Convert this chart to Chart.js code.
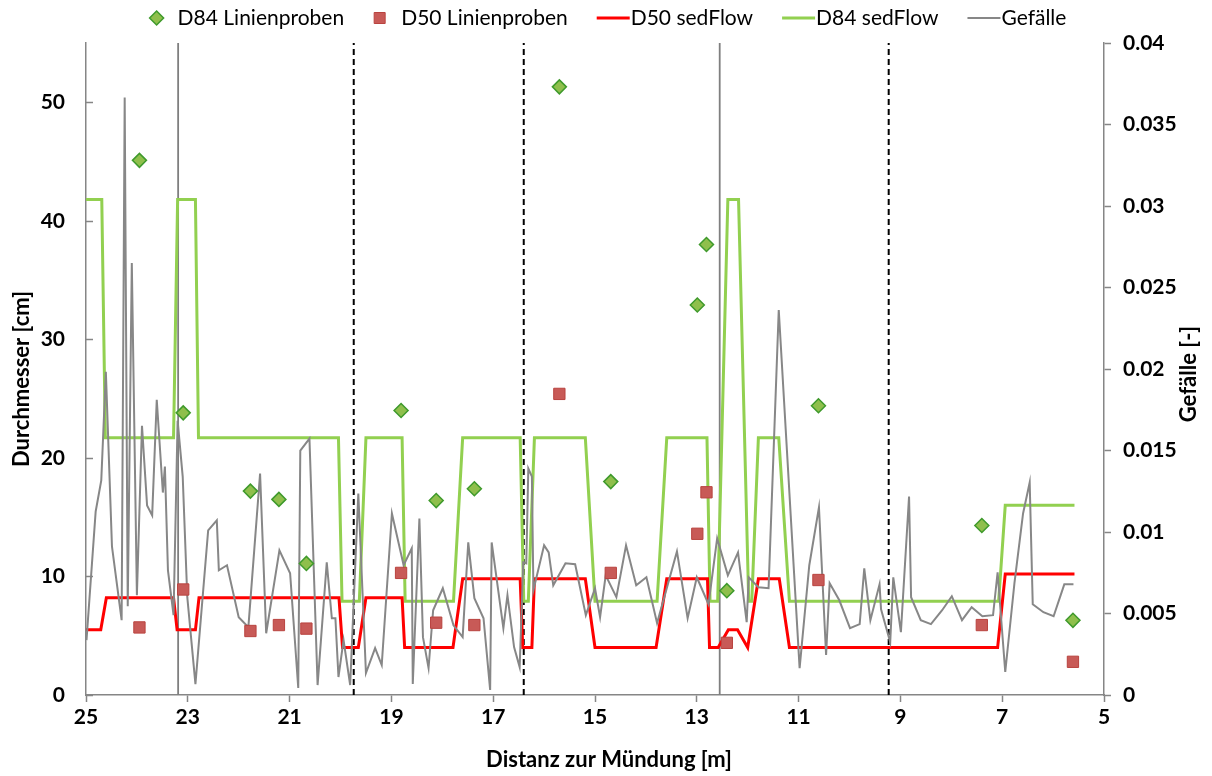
<!DOCTYPE html>
<html><head><meta charset="utf-8">
<script src="https://cdn.jsdelivr.net/npm/chart.js@4.4.1/dist/chart.umd.min.js"></script>
<style>html,body{margin:0;padding:0;background:#fff;overflow:hidden}</style>
</head><body>
<canvas id="c" width="1212" height="776"></canvas>
<script>
// ---- data ----
const sampleDist = [23.95, 23.09, 21.77, 21.21, 20.67, 18.81, 18.12, 17.37, 15.70, 14.69, 12.99, 12.81, 12.41, 10.61, 7.40, 5.61];
const d84Samples = [45.1, 23.8, 17.2, 16.5, 11.1, 24.0, 16.4, 17.4, 51.3, 18.0, 32.9, 38.0, 8.8, 24.4, 14.3, 6.3];
const d50Samples = [5.7, 8.9, 5.4, 5.9, 5.6, 10.3, 6.1, 5.9, 25.4, 10.3, 13.6, 17.1, 4.4, 9.7, 5.9, 2.8];

const sedFlowD50Dist = [25.0, 24.71, 24.60, 23.28, 23.21, 22.85, 22.78, 20.03, 19.96, 19.65, 19.50, 18.79, 18.74, 17.79, 17.60, 16.47, 16.42, 16.24, 16.19, 15.19, 15.00, 13.80, 13.59, 12.79, 12.75, 12.58, 12.38, 12.20, 12.00, 11.79, 11.38, 11.18, 7.09, 6.94, 5.58];
const sedFlowD50 = [5.5, 5.5, 8.2, 8.2, 5.5, 5.5, 8.2, 8.2, 4.0, 4.0, 8.2, 8.2, 4.0, 4.0, 9.8, 9.8, 4.0, 4.0, 9.8, 9.8, 4.0, 4.0, 9.8, 9.8, 4.0, 4.0, 5.5, 5.5, 4.0, 9.8, 9.8, 4.0, 4.0, 10.2, 10.2];

const sedFlowD84Dist = [25.0, 24.69, 24.62, 23.28, 23.20, 22.85, 22.79, 20.04, 19.97, 19.63, 19.50, 18.79, 18.73, 17.78, 17.60, 16.47, 16.40, 16.31, 16.19, 15.19, 15.00, 13.78, 13.59, 12.80, 12.74, 12.59, 12.39, 12.18, 11.98, 11.92, 11.79, 11.39, 11.18, 7.07, 6.94, 5.58];
const sedFlowD84 = [41.8, 41.8, 21.7, 21.7, 41.8, 41.8, 21.7, 21.7, 7.9, 7.9, 21.7, 21.7, 7.9, 7.9, 21.7, 21.7, 7.9, 7.9, 21.7, 21.7, 7.9, 7.9, 21.7, 21.7, 7.9, 7.9, 41.8, 41.8, 7.9, 7.9, 21.7, 21.7, 7.9, 7.9, 16.0, 16.0];

const slopeDist = [24.99,24.81,24.70,24.61,24.49,24.30,24.24,24.18,24.10,24.00,
  23.90,23.80,23.70,23.61,23.49,23.45,23.39,23.28,23.20,23.10,
  23.01,22.85,22.60,22.43,22.39,22.23,22.00,21.81,21.58,21.46,
  21.20,20.99,20.83,20.79,20.61,20.45,20.27,20.17,20.10,20.04,
  19.94,19.81,19.65,19.50,19.32,19.19,18.99,18.76,18.60,18.58,
  18.45,18.38,18.27,18.18,17.99,17.78,17.60,17.49,17.37,17.19,
  17.06,17.03,16.80,16.72,16.59,16.48,16.41,16.35,16.31,16.24,
  16.21,16.00,15.91,15.82,15.58,15.39,15.18,15.00,14.90,14.79,
  14.58,14.39,14.19,13.99,13.78,13.39,13.18,13.00,12.77,12.60,
  12.39,12.19,12.02,11.98,11.79,11.59,11.39,10.98,10.79,10.60,
  10.46,10.39,10.20,9.99,9.80,9.71,9.59,9.41,9.38,9.20,
  9.14,8.99,8.83,8.79,8.60,8.40,8.18,7.99,7.79,7.60,
  7.39,7.18,7.09,6.94,6.76,6.59,6.46,6.40,6.19,5.99,
  5.78,5.60];
const slope = [0.00337,0.01126,0.01316,0.01983,0.00912,0.00459,0.03666,0.00545,0.0265,0.00612,
  0.01652,0.01163,0.01102,0.01811,0.01242,0.01401,0.00765,0.0049,0.01683,0.0134,
  0.006,0.00067,0.0101,0.01071,0.00765,0.00796,0.00477,0.00416,0.01359,0.00379,
  0.00887,0.00747,0.00043,0.01499,0.01573,0.00061,0.00814,0.00471,0.00471,0.0011,
  0.00337,0.00061,0.01236,0.00135,0.00288,0.00184,0.01114,0.00796,0.009,0.00067,
  0.01083,0.00355,0.00165,0.0052,0.00655,0.00428,0.00355,0.00936,0.00594,0.00471,
  0.00031,0.00936,0.0041,0.00612,0.00294,0.00171,0.00814,0.00808,0.01389,0.0134,
  0.00643,0.00918,0.00875,0.00673,0.00808,0.00802,0.0049,0.00655,0.00477,0.00734,
  0.006,0.00918,0.00673,0.00722,0.00441,0.00881,0.00471,0.00722,0.00557,0.00961,
  0.00734,0.00875,0.00447,0.00722,0.00661,0.00655,0.02362,0.00165,0.00796,0.01151,
  0.00245,0.00685,0.00581,0.0041,0.00435,0.00777,0.00459,0.00679,0.00526,0.00324,
  0.00722,0.00386,0.01218,0.006,0.00459,0.00435,0.0052,0.00606,0.00459,0.00539,
  0.00483,0.0049,0.00753,0.00141,0.00685,0.01114,0.01304,0.00557,0.00508,0.00483,
  0.00679,0.00679];

const solidMarkerDist = [23.19, 12.55];
const dashedMarkerDist = [19.74, 16.40, 9.23];

const xTickValues = [25, 23, 21, 19, 17, 15, 13, 11, 9, 7, 5];
const leftTickValues = [0, 10, 20, 30, 40, 50];
const rightTickValues = [0, 0.005, 0.01, 0.015, 0.02, 0.025, 0.03, 0.035, 0.04];

// ---- build datasets ----
const pts = (xs, ys) => xs.map((x, i) => ({x, y: ys[i]}));
const Y_MAX = 55;

const datasets = [];
solidMarkerDist.forEach(d => datasets.push({
  label: '_solid', data: [{x: d, y: 0}, {x: d, y: Y_MAX}], showLine: true, pointRadius: 0,
  borderColor: '#7f7f7f', borderWidth: 1.8, yAxisID: 'y', order: 20
}));
dashedMarkerDist.forEach(d => datasets.push({
  label: '_dashed', data: [{x: d, y: 0}, {x: d, y: Y_MAX}], showLine: true, pointRadius: 0,
  borderColor: '#000000', borderWidth: 2, borderDash: [6, 4], yAxisID: 'y', order: 20
}));
datasets.push({
  label: 'D84 sedFlow', legendKind: 'line', legendOrder: 3,
  data: pts(sedFlowD84Dist, sedFlowD84), showLine: true, pointRadius: 0,
  borderColor: '#92d050', borderWidth: 3, yAxisID: 'y', order: 9
});
datasets.push({
  label: 'D50 sedFlow', legendKind: 'line', legendOrder: 2,
  data: pts(sedFlowD50Dist, sedFlowD50), showLine: true, pointRadius: 0,
  borderColor: '#ff0000', borderWidth: 3, yAxisID: 'y', order: 8
});
datasets.push({
  label: 'Gefälle', legendKind: 'line', legendOrder: 4,
  data: pts(slopeDist, slope), showLine: true, pointRadius: 0,
  borderColor: '#878787', borderWidth: 2, yAxisID: 'y2', order: 7
});
datasets.push({
  label: 'D50 Linienproben', legendKind: 'rect', legendOrder: 1,
  data: pts(sampleDist, d50Samples), showLine: false, pointStyle: 'rect', pointRadius: 8,
  backgroundColor: '#c85a57', borderColor: '#b9433f', borderWidth: 1, yAxisID: 'y', order: 2
});
datasets.push({
  label: 'D84 Linienproben', legendKind: 'rectRot', legendOrder: 0,
  data: pts(sampleDist, d84Samples), showLine: false, pointStyle: 'rectRot', pointRadius: 7,
  backgroundColor: '#8fbf4c', borderColor: '#3f9a2c', borderWidth: 1.5, yAxisID: 'y', order: 1
});

const FONT = 'Lato';
const X_TITLE = 'Distanz zur Mündung [m]';
const Y_TITLE = 'Durchmesser [cm]';
const Y2_TITLE = 'Gefälle [-]';
const extras = {
  id: 'extras',
  afterDraw(chart) {
    const ctx = chart.ctx, ca = chart.chartArea, yS = chart.scales.y, y2 = chart.scales.y2;
    ctx.save();
    // inside tick marks on the left axis
    ctx.strokeStyle = '#868686'; ctx.lineWidth = 1.5;
    leftTickValues.forEach(v => {
      const py = Math.round(yS.getPixelForValue(v)) + 0.5;
      ctx.beginPath(); ctx.moveTo(ca.left, py); ctx.lineTo(ca.left + 7, py); ctx.stroke();
    });
    ctx.font = 'bold 22px ' + FONT; ctx.fillStyle = '#000';
    ctx.textAlign = 'center'; ctx.textBaseline = 'middle';
    // x axis title (centred on the whole chart, like the reference)
    ctx.fillText(X_TITLE, chart.width / 2 + 3, chart.height - 16);
    // left axis title (reads bottom-to-top)
    ctx.save();
    ctx.translate(yS.left + 22, (ca.top + ca.bottom) / 2 + 10);
    ctx.rotate(-Math.PI / 2);
    ctx.fillText(Y_TITLE, 0, 0);
    ctx.restore();
    // right axis title (reads bottom-to-top)
    ctx.save();
    ctx.translate(y2.right - 23, (ca.top + ca.bottom) / 2 + 5);
    ctx.rotate(-Math.PI / 2);
    ctx.fillText(Y2_TITLE, 0, 0);
    ctx.restore();
    // legend
    ctx.font = '21px ' + FONT; ctx.fillStyle = '#000';
    ctx.textBaseline = 'middle'; ctx.textAlign = 'left';
    const items = chart.data.datasets.filter(d => d.legendKind).sort((a, b) => a.legendOrder - b.legendOrder);
    const widths = items.map(d => (d.legendKind === 'line' ? 34 : 28) + ctx.measureText(d.label).width);
    const gap = 29;
    const total = widths.reduce((a, b) => a + b, 0) + gap * (items.length - 1);
    let x = (chart.width - total) / 2 + 2;
    const ly = 18;
    items.forEach((d, i) => {
      if (d.legendKind === 'line') {
        ctx.strokeStyle = d.borderColor; ctx.lineWidth = d.borderWidth;
        ctx.beginPath(); ctx.moveTo(x, ly); ctx.lineTo(x + 33, ly); ctx.stroke();
        ctx.fillStyle = '#000'; ctx.fillText(d.label, x + 34, ly);
      } else {
        ctx.fillStyle = d.backgroundColor; ctx.strokeStyle = d.borderColor; ctx.lineWidth = d.borderWidth;
        ctx.beginPath();
        if (d.legendKind === 'rectRot') {
          ctx.moveTo(x + 7, ly - 7); ctx.lineTo(x + 14, ly); ctx.lineTo(x + 7, ly + 7); ctx.lineTo(x, ly); ctx.closePath();
        } else {
          ctx.rect(x + 1, ly - 5.5, 11, 11);
        }
        ctx.fill(); ctx.stroke();
        ctx.fillStyle = '#000'; ctx.fillText(d.label, x + 28, ly);
      }
      x += widths[i] + gap;
    });
    ctx.restore();
  }
};

const tickFont = {family: FONT, size: 21, weight: 'bold'};
const axisColor = '#868686';

new Chart(document.getElementById('c'), {
  type: 'scatter',
  data: {datasets},
  plugins: [extras],
  options: {
    responsive: false, animation: false, devicePixelRatio: 1,
    layout: {padding: {top: 43, left: 0, right: 0, bottom: 0}},
    plugins: {legend: {display: false}, tooltip: {enabled: false}},
    elements: {line: {tension: 0}},
    scales: {
      x: {
        type: 'linear', min: 5, max: 25, reverse: true,
        afterBuildTicks: s => { s.ticks = xTickValues.map(v => ({value: v})); },
        afterFit: s => { s.height = 81; },
        ticks: {font: tickFont, color: '#000', padding: 3, maxRotation: 0, autoSkip: false},
        grid: {drawOnChartArea: false, drawTicks: true, tickLength: 7, tickColor: axisColor, tickWidth: 1.5},
        border: {color: axisColor, width: 1.5},
        title: {display: false}
      },
      y: {
        position: 'left', min: 0, max: Y_MAX,
        afterBuildTicks: s => { s.ticks = leftTickValues.map(v => ({value: v})); },
        afterFit: s => { s.width = 86; },
        ticks: {font: tickFont, color: '#000', padding: 21},
        grid: {drawOnChartArea: false, drawTicks: false},
        border: {color: axisColor, width: 1.5},
        title: {display: false}
      },
      y2: {
        position: 'right', min: 0, max: 0.04,
        afterBuildTicks: s => { s.ticks = rightTickValues.map(v => ({value: v})); },
        afterFit: s => { s.width = 108; },
        ticks: {font: tickFont, color: '#000', padding: 12, callback: v => String(+v.toFixed(3))},
        grid: {drawOnChartArea: false, drawTicks: true, tickLength: 7, tickColor: axisColor, tickWidth: 1.5},
        border: {color: axisColor, width: 1.5}
      }
    }
  }
});
</script>
</body></html>
